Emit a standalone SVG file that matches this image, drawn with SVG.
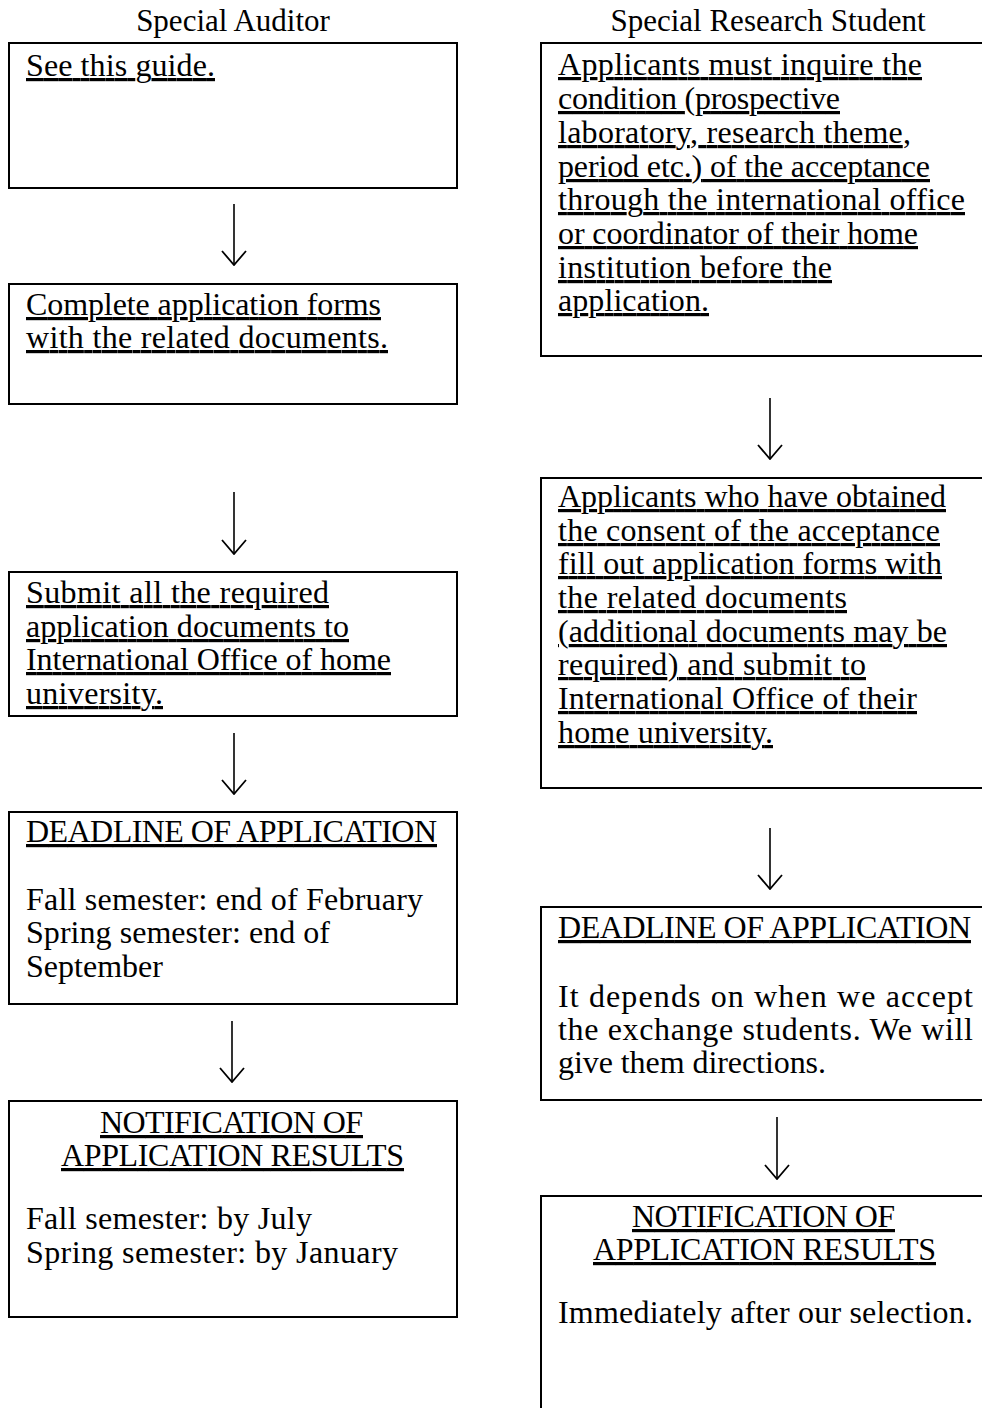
<svg xmlns="http://www.w3.org/2000/svg" width="982" height="1408" viewBox="0 0 982 1408">
<style>
.box{fill:#fff;stroke:#000;stroke-width:2}
.t{font-family:"Liberation Serif","Times New Roman",serif;font-size:32px;fill:#000}
.u{text-decoration:underline}
.h{font-family:"Liberation Serif","Times New Roman",serif;font-size:31px;fill:#000;text-anchor:middle}
.c{fill:none;stroke:#000;stroke-width:1.6}
</style>
<defs>
<marker id="ah" markerUnits="userSpaceOnUse" markerWidth="16" markerHeight="26" refX="15" refY="13" orient="auto" viewBox="0 0 16 26">
<path d="M1,1 L15,13 L1,25" fill="none" stroke="#000" stroke-width="1.8"/>
</marker>
</defs>
<rect width="982" height="1408" fill="#fff"/>
<g id="headers">
<text class="h" x="233" y="31">Special Auditor</text>
<text class="h" x="768" y="31">Special Research Student</text>
</g>
<g id="connectors">
<path class="c" d="M234,204 V265" marker-end="url(#ah)"/>
<path class="c" d="M234,492 V554" marker-end="url(#ah)"/>
<path class="c" d="M234,733 V794" marker-end="url(#ah)"/>
<path class="c" d="M232,1021 V1082" marker-end="url(#ah)"/>
<path class="c" d="M770,398 V459" marker-end="url(#ah)"/>
<path class="c" d="M770,828 V889" marker-end="url(#ah)"/>
<path class="c" d="M777,1117 V1179" marker-end="url(#ah)"/>
</g>
<g id="sa1">
<rect class="box" x="9" y="43" width="448" height="145"/>
<text class="t u" x="26" y="76" textLength="189">See this guide.</text>
</g>
<g id="sa2">
<rect class="box" x="9" y="284" width="448" height="120"/>
<text class="t u" x="26" y="315" textLength="355">Complete application forms</text>
<text class="t u" x="26" y="348" textLength="362">with the related documents.</text>
</g>
<g id="sa3">
<rect class="box" x="9" y="572" width="448" height="144"/>
<text class="t u" x="26" y="603" textLength="303">Submit all the required</text>
<text class="t u" x="26" y="637" textLength="323">application documents to</text>
<text class="t u" x="26" y="670" textLength="365">International Office of home</text>
<text class="t u" x="26" y="704" textLength="137">university.</text>
</g>
<g id="sa4">
<rect class="box" x="9" y="812" width="448" height="192"/>
<text class="t u" x="26" y="842" textLength="411">DEADLINE OF APPLICATION</text>
<text class="t" x="26" y="910" textLength="397">Fall semester: end of February</text>
<text class="t" x="26" y="943" textLength="304">Spring semester: end of</text>
<text class="t" x="26" y="977" textLength="137">September</text>
</g>
<g id="sa5">
<rect class="box" x="9" y="1101" width="448" height="216"/>
<text class="t u" x="100" y="1133" textLength="263">NOTIFICATION OF</text>
<text class="t u" x="61" y="1166" textLength="343">APPLICATION RESULTS</text>
<text class="t" x="26" y="1229" textLength="286">Fall semester: by July</text>
<text class="t" x="26" y="1263" textLength="372">Spring semester: by January</text>
</g>
<g id="srs1">
<rect class="box" x="541" y="43" width="470" height="313"/>
<text class="t u" x="558" y="75" textLength="364">Applicants must inquire the</text>
<text class="t u" x="558" y="109" textLength="282">condition (prospective</text>
<text class="t u" x="558" y="143" textLength="353">laboratory, research theme,</text>
<text class="t u" x="558" y="177" textLength="372">period etc.) of the acceptance</text>
<text class="t u" x="558" y="210" textLength="407">through the international office</text>
<text class="t u" x="558" y="244" textLength="360">or coordinator of their home</text>
<text class="t u" x="558" y="278" textLength="274">institution before the</text>
<text class="t u" x="558" y="311" textLength="151">application.</text>
</g>
<g id="srs2">
<rect class="box" x="541" y="478" width="470" height="310"/>
<text class="t u" x="558" y="507" textLength="388">Applicants who have obtained</text>
<text class="t u" x="558" y="541" textLength="382">the consent of the acceptance</text>
<text class="t u" x="558" y="574" textLength="384">fill out application forms with</text>
<text class="t u" x="558" y="608" textLength="289">the related documents</text>
<text class="t u" x="558" y="642" textLength="389">(additional documents may be</text>
<text class="t u" x="558" y="675" textLength="308">required) and submit to</text>
<text class="t u" x="558" y="709" textLength="359">International Office of their</text>
<text class="t u" x="558" y="743" textLength="215">home university.</text>
</g>
<g id="srs3">
<rect class="box" x="541" y="907" width="470" height="193"/>
<text class="t u" x="558" y="938" textLength="413">DEADLINE OF APPLICATION</text>
<text class="t" x="558" y="1007" textLength="415">It depends on when we accept</text>
<text class="t" x="558" y="1040" textLength="415">the exchange students. We will</text>
<text class="t" x="558" y="1073" textLength="268">give them directions.</text>
</g>
<g id="srs4">
<rect class="box" x="541" y="1196" width="470" height="240"/>
<text class="t u" x="632" y="1227" textLength="263">NOTIFICATION OF</text>
<text class="t u" x="593" y="1260" textLength="343">APPLICATION RESULTS</text>
<text class="t" x="558" y="1323" textLength="415">Immediately after our selection.</text>
</g>
</svg>
